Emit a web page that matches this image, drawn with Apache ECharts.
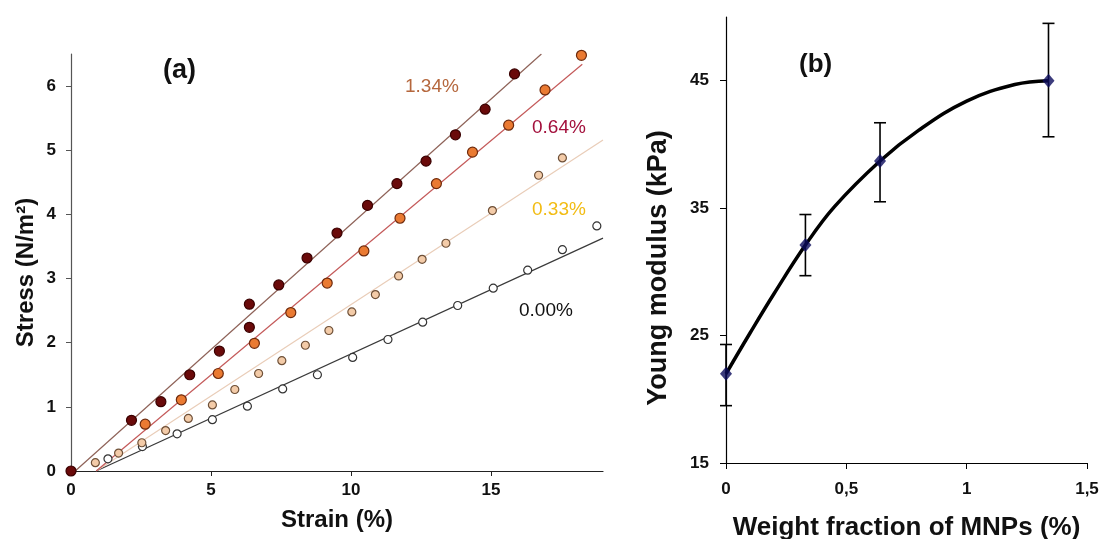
<!DOCTYPE html>
<html><head><meta charset="utf-8">
<script src="https://cdn.jsdelivr.net/npm/echarts@6/dist/echarts.min.js"></script>
<style>html,body{margin:0;padding:0;background:#fff}#c{width:1104px;height:539px}</style>
</head><body><div id="c"></div>
<script>
// ---- Panel (a): stress-strain data ----
const s134 = [[0,0],[2.16,0.79],[3.21,1.08],[4.24,1.50],[5.30,1.87],[6.37,2.24],[6.37,2.60],[7.42,2.90],[8.43,3.32],[9.50,3.71],[10.59,4.14],[11.64,4.48],[12.68,4.83],[13.73,5.24],[14.79,5.64],[15.84,6.19]];
const s064 = [[2.65,0.73],[3.94,1.11],[5.26,1.52],[6.55,1.99],[7.85,2.47],[9.15,2.93],[10.46,3.43],[11.75,3.94],[13.05,4.48],[14.34,4.97],[15.63,5.39],[16.93,5.94],[18.23,6.48]];
const s033 = [[0.87,0.13],[1.70,0.28],[2.53,0.44],[3.38,0.63],[4.19,0.82],[5.05,1.03],[5.85,1.27],[6.70,1.52],[7.53,1.72],[8.37,1.96],[9.21,2.19],[10.03,2.48],[10.87,2.75],[11.70,3.04],[12.54,3.30],[13.39,3.55],[15.05,4.06],[16.70,4.61],[17.55,4.88]];
const s000 = [[1.32,0.19],[2.55,0.38],[3.79,0.58],[5.05,0.80],[6.30,1.01],[7.56,1.28],[8.80,1.50],[10.06,1.77],[11.32,2.05],[12.56,2.32],[13.81,2.58],[15.08,2.85],[16.31,3.13],[17.55,3.45],[18.78,3.82]];
const fit134 = [[0.15,0],[16.8,6.5]];
const fit064 = [[0.9,0],[18.26,6.34]];
const fit033 = [[0.9,0],[19,5.16]];
const fit000 = [[0.9,0],[19,3.63]];
const aXTicks = [0,5,10,15];
const aYTicks = [0,1,2,3,4,5,6];
// ---- Panel (b): Young modulus ----
const wf = [0,0.33,0.64,1.34];
const ym = [22.0,32.1,38.7,45.0];
const ymLow = [19.5,29.7,35.5,40.6];
const ymHigh = [24.3,34.5,41.7,49.5];
const curveX = [0,0.1,0.2,0.33,0.45,0.64,0.8,1.0,1.2,1.34];
const curveY = [22,25.2,28.3,32.1,35.1,38.7,41.1,43.4,44.7,45.0];
const bXTicks = [0,0.5,1,1.5];
const bYTicks = [15,25,35,45];

const F = 'Liberation Sans, Arial, sans-serif';
const chart = echarts.init(document.getElementById('c'));

function fitLine(data, color, xi, yi){
  return {type:'line', data, xAxisIndex:xi, yAxisIndex:yi, symbol:'none', lineStyle:{color, width:1.2}, silent:true, z:1};
}
function pts(data, fill, border, size){
  return {type:'scatter', data, xAxisIndex:0, yAxisIndex:0, symbolSize:size, itemStyle:{color:fill, borderColor:border, borderWidth:1.2, opacity:1}, z:3};
}

chart.setOption({
  backgroundColor:'#fff',
  animation:false,
  grid:[
    {left:71, top:54, width:532, height:417, outerBoundsMode:'none', containLabel:false},
    {left:726, top:17, width:361, height:446, outerBoundsMode:'none', containLabel:false}
  ],
  xAxis:[
    {type:'value', gridIndex:0, min:0, max:19, interval:5, name:'Strain (%)', nameLocation:'middle', nameGap:37,
     nameTextStyle:{fontFamily:F, fontWeight:'bold', color:'#111', fontSize:24},
     axisLine:{lineStyle:{color:'#222', width:1.2}}, axisTick:{show:true, length:5, customValues:aXTicks, lineStyle:{color:'#222'}},
     axisLabel:{fontFamily:F, fontWeight:'bold', color:'#111', fontSize:17, margin:11, customValues:aXTicks}, splitLine:{show:false}},
    {type:'value', gridIndex:1, min:0, max:1.5, interval:0.5, name:'Weight fraction of MNPs (%)', nameLocation:'middle', nameGap:52,
     nameTextStyle:{fontFamily:F, fontWeight:'bold', color:'#111', fontSize:26},
     axisLine:{lineStyle:{color:'#000', width:1.2}}, axisTick:{show:true, length:6, customValues:bXTicks, lineStyle:{color:'#000'}},
     axisLabel:{fontFamily:F, fontWeight:'bold', color:'#111', fontSize:17, margin:18, customValues:bXTicks, formatter:v=>String(v).replace('.',',')}, splitLine:{show:false}}
  ],
  yAxis:[
    {type:'value', gridIndex:0, min:0, max:6.5, interval:1, name:'Stress (N/m²)', nameLocation:'middle', nameGap:33,
     nameTextStyle:{fontFamily:F, fontWeight:'bold', color:'#111', fontSize:24, padding:[0,20,0,0]},
     axisLine:{show:true, lineStyle:{color:'#555', width:1.2}}, axisTick:{show:true, length:5, customValues:aYTicks, lineStyle:{color:'#555'}},
     axisLabel:{fontFamily:F, fontWeight:'bold', color:'#111', fontSize:17, margin:15, customValues:aYTicks}, splitLine:{show:false}},
    {type:'value', gridIndex:1, min:15, max:50, interval:10, name:'Young modulus (kPa)', nameLocation:'middle', nameGap:54,
     nameTextStyle:{fontFamily:F, fontWeight:'bold', color:'#111', fontSize:27, padding:[0,56,0,0]},
     axisLine:{show:true, lineStyle:{color:'#000', width:1.2}}, axisTick:{show:true, length:6, customValues:bYTicks, lineStyle:{color:'#000'}},
     axisLabel:{fontFamily:F, fontWeight:'bold', color:'#111', fontSize:17, margin:17, customValues:bYTicks}, splitLine:{show:false}}
  ],
  graphic:[
    {type:'text', left:163, top:57, style:{text:'(a)', font:'bold 27px '+F, fill:'#111'}},
    {type:'text', left:405, top:77, style:{text:'1.34%', font:'19px '+F, fill:'#B5673D'}},
    {type:'text', left:532, top:118, style:{text:'0.64%', font:'19px '+F, fill:'#A3103C'}},
    {type:'text', left:532, top:200, style:{text:'0.33%', font:'19px '+F, fill:'#F2BC14'}},
    {type:'text', left:519, top:301, style:{text:'0.00%', font:'19px '+F, fill:'#111'}},
    {type:'text', left:799, top:52, style:{text:'(b)', font:'bold 26px '+F, fill:'#111'}}
  ],
  series:[
    fitLine(fit000,'#3a3a3a',0,0),
    fitLine(fit033,'#E9CDB8',0,0),
    fitLine(fit064,'#C45A5A',0,0),
    fitLine(fit134,'#8E6258',0,0),
    pts(s000,'#ffffff','#333333',8),
    pts(s033,'#F3CBA8','#6E5038',8),
    pts(s064,'#EA7A32','#6E2A0C',10),
    pts(s134,'#6A0A0A','#3A0000',10),
    {type:'line', xAxisIndex:1, yAxisIndex:1, data:curveX.map((x,i)=>[x,curveY[i]]), smooth:0.4, symbol:'none', lineStyle:{color:'#000', width:3.5}, z:2},
    {type:'custom', xAxisIndex:1, yAxisIndex:1, data:wf.map((x,i)=>[x,ymLow[i],ymHigh[i]]), z:3,
     renderItem:function(params, api){
       const lo = api.coord([api.value(0), api.value(1)]);
       const hi = api.coord([api.value(0), api.value(2)]);
       const w = 6;
       const st = {stroke:'#000', lineWidth:1.6};
       return {type:'group', children:[
         {type:'line', shape:{x1:lo[0], y1:lo[1], x2:hi[0], y2:hi[1]}, style:st},
         {type:'line', shape:{x1:lo[0]-w, y1:lo[1], x2:lo[0]+w, y2:lo[1]}, style:st},
         {type:'line', shape:{x1:hi[0]-w, y1:hi[1], x2:hi[0]+w, y2:hi[1]}, style:st}
       ]};
     }},
    {type:'scatter', xAxisIndex:1, yAxisIndex:1, data:wf.map((x,i)=>[x,ym[i]]), symbol:'diamond', symbolSize:[12,14], itemStyle:{color:'#0B0B5C'}, z:4}
  ]
});
</script></body></html>
